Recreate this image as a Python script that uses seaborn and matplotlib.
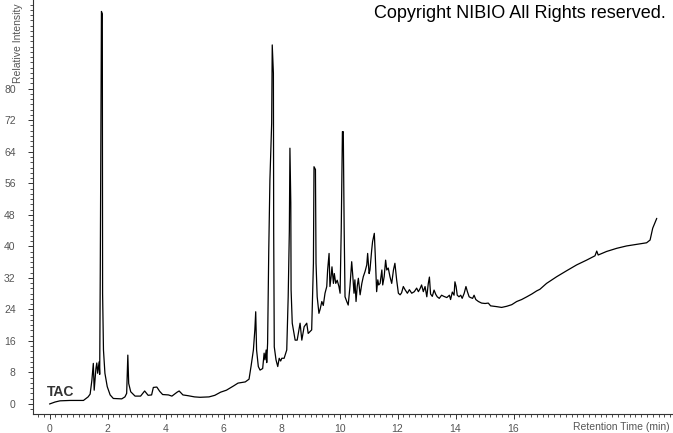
import pandas as pd
import matplotlib
matplotlib.use("Agg")
import matplotlib.pyplot as plt
from matplotlib.ticker import FixedLocator, MultipleLocator
import seaborn as sns

# TAC chromatogram (retention time in min, relative intensity)
retention_time = [
    0.00, 0.19, 0.36, 0.71, 1.17, 1.33, 1.40, 1.46, 1.51, 1.54, 1.60, 1.63, 1.66, 1.71, 1.73,
    1.75, 1.79, 1.82, 1.83, 1.86, 1.91, 1.99, 2.09, 2.20, 2.49, 2.60, 2.66, 2.70, 2.73, 2.80,
    2.95, 3.14, 3.28, 3.40, 3.52, 3.58, 3.70, 3.80, 3.90, 4.10, 4.22, 4.40, 4.47, 4.60, 4.78,
    5.00, 5.19, 5.50, 5.70, 5.90, 6.10, 6.35, 6.50, 6.75, 6.88, 6.95, 7.03, 7.08, 7.11, 7.14,
    7.20, 7.26, 7.35, 7.40, 7.43, 7.47, 7.49, 7.52, 7.56, 7.60, 7.66, 7.68, 7.72, 7.73, 7.75,
    7.81, 7.87, 7.92, 7.97, 8.01, 8.09, 8.18, 8.23, 8.27, 8.29, 8.32, 8.33, 8.37, 8.47, 8.54,
    8.64, 8.70, 8.78, 8.87, 8.92, 9.04, 9.10, 9.12, 9.17, 9.19, 9.23, 9.29, 9.33, 9.39, 9.44,
    9.50, 9.56, 9.59, 9.64, 9.67, 9.71, 9.74, 9.79, 9.82, 9.87, 9.92, 9.98, 10.02, 10.06, 10.10,
    10.13, 10.16, 10.19, 10.25, 10.30, 10.36, 10.42, 10.46, 10.50, 10.53, 10.57, 10.61, 10.65, 10.71, 10.77,
    10.82, 10.88, 10.94, 10.97, 11.02, 11.05, 11.11, 11.14, 11.20, 11.23, 11.28, 11.32, 11.35, 11.40, 11.46,
    11.49, 11.54, 11.59, 11.63, 11.68, 11.74, 11.80, 11.86, 11.91, 11.97, 12.03, 12.09, 12.14, 12.20, 12.26,
    12.34, 12.41, 12.49, 12.58, 12.66, 12.72, 12.78, 12.83, 12.89, 12.95, 13.01, 13.06, 13.10, 13.14, 13.20,
    13.26, 13.32, 13.37, 13.44, 13.52, 13.60, 13.70, 13.79, 13.83, 13.89, 13.95, 13.98, 14.02, 14.06, 14.12,
    14.18, 14.23, 14.30, 14.36, 14.41, 14.47, 14.52, 14.59, 14.64, 14.70, 14.79, 14.90, 15.02, 15.13, 15.21,
    15.42, 15.59, 15.77, 15.94, 16.11, 16.28, 16.46, 16.63, 16.80, 16.91, 17.14, 17.49, 17.83, 18.18, 18.52,
    18.81, 18.87, 18.92, 19.21, 19.56, 19.90, 20.25, 20.59, 20.71, 20.80, 20.94,
]
intensity = [
    0.0, 0.5, 0.8, 0.9, 0.9, 1.8, 2.5, 6.0, 10.3, 3.5, 9.0, 10.4, 7.8, 10.7, 7.5,
    34.0, 99.6, 99.0, 28.0, 13.7, 7.8, 4.4, 2.3, 1.4, 1.3, 1.8, 2.7, 12.4, 5.2, 3.1,
    2.0, 2.0, 3.3, 2.2, 2.3, 4.2, 4.3, 3.2, 2.4, 2.3, 2.0, 3.0, 3.3, 2.3, 2.1,
    1.8, 1.7, 1.8, 2.2, 3.0, 3.5, 4.6, 5.3, 5.6, 6.3, 9.6, 13.7, 18.8, 23.4, 13.7,
    9.5, 8.6, 9.0, 12.9, 11.2, 13.7, 10.5, 15.4, 39.0, 56.9, 71.2, 91.1, 83.9, 44.0, 14.5,
    11.2, 9.5, 11.6, 10.9, 11.6, 11.6, 13.7, 27.2, 44.0, 64.9, 51.0, 29.0, 20.5, 16.2, 16.2,
    20.5, 16.2, 19.6, 20.5, 17.9, 18.8, 35.7, 60.2, 59.5, 35.7, 27.2, 23.0, 24.0, 26.0, 25.0,
    28.1, 29.8, 34.0, 38.2, 29.8, 32.3, 34.8, 30.6, 33.1, 30.6, 31.4, 29.8, 28.1, 44.6, 69.1,
    69.1, 44.6, 27.2, 26.0, 25.1, 29.8, 36.1, 32.3, 28.1, 31.5, 26.0, 29.8, 31.9, 27.7, 30.6,
    32.3, 33.6, 35.3, 38.2, 33.1, 34.0, 39.1, 41.2, 43.3, 38.2, 28.5, 31.5, 30.2, 30.6, 34.0,
    30.2, 32.3, 36.5, 34.0, 34.5, 32.3, 30.6, 34.0, 35.7, 31.5, 28.1, 27.7, 28.2, 29.8, 29.0,
    28.1, 29.0, 28.1, 28.5, 29.4, 28.5, 29.3, 30.2, 28.5, 29.8, 27.2, 30.5, 32.2, 27.9, 27.3,
    28.9, 27.8, 27.2, 26.8, 27.6, 27.3, 27.0, 27.6, 26.5, 28.4, 27.6, 31.0, 29.8, 27.6, 27.2,
    27.6, 26.8, 28.1, 29.8, 28.5, 27.2, 27.0, 26.8, 27.6, 26.5, 26.0, 25.6, 25.5, 25.6, 24.9,
    24.7, 24.5, 24.8, 25.2, 26.0, 26.5, 27.2, 27.9, 28.7, 29.1, 30.6, 32.3, 33.8, 35.3, 36.5,
    37.6, 38.8, 37.8, 38.7, 39.5, 40.1, 40.5, 40.9, 41.6, 44.6, 47.1,
]
x_ticks = [0, 2, 4, 6, 8, 10, 12, 14, 16]
y_ticks = [0, 8, 16, 24, 32, 40, 48, 56, 64, 72, 80]

sns.set_style("white")
plt.rcParams["font.family"] = ["Liberation Sans", "DejaVu Sans"]

df = pd.DataFrame({"time": retention_time, "intensity": intensity})

fig = plt.figure(figsize=(6.73, 4.33), dpi=100)
ax = fig.add_axes([33 / 673, 19 / 433, 640 / 673, 414 / 433])
sns.lineplot(data=df, x="time", y="intensity", ax=ax, color="black",
             linewidth=0.9, estimator=None, sort=False)

ax.set_xlim(-0.57, 21.5)
ax.set_ylim(-2.54, 102.5)
ax.set_xlabel("")
ax.set_ylabel("")

ax.xaxis.set_major_locator(FixedLocator(x_ticks))
ax.xaxis.set_minor_locator(MultipleLocator(0.2))
ax.yaxis.set_major_locator(FixedLocator(y_ticks))
ax.yaxis.set_minor_locator(MultipleLocator(8 / 6))

for side in ["top", "right"]:
    ax.spines[side].set_visible(False)
for side in ["left", "bottom"]:
    ax.spines[side].set_color("#333333")
    ax.spines[side].set_linewidth(0.8)

ax.tick_params(which="both", direction="out", color="#333333", labelcolor="#555555",
               labelsize=7.5, left=True, bottom=True)
ax.tick_params(which="major", length=3.5, width=0.7)
ax.tick_params(which="minor", length=2.0, width=0.6)
ax.tick_params(axis="y", which="major", pad=9)
ax.tick_params(axis="x", which="major", pad=4)

ax.text(-0.09, 3.0, "TAC", fontsize=10, fontweight="bold", color="#333333",
        ha="left", va="center")

fig.text(670 / 673, 6 / 433, "Retention Time (min)", fontsize=7.5, color="#555555",
         ha="right", va="center")
fig.text(18 / 673, 1 - 83 / 433, "Relative Intensity", fontsize=7.5, color="#555555",
         rotation=90, ha="center", va="bottom")
fig.text(666 / 673, 1 - 14 / 433, "Copyright NIBIO All Rights reserved.", fontsize=13,
         color="black", ha="right", va="center")

fig.savefig("out.png", dpi=100)
